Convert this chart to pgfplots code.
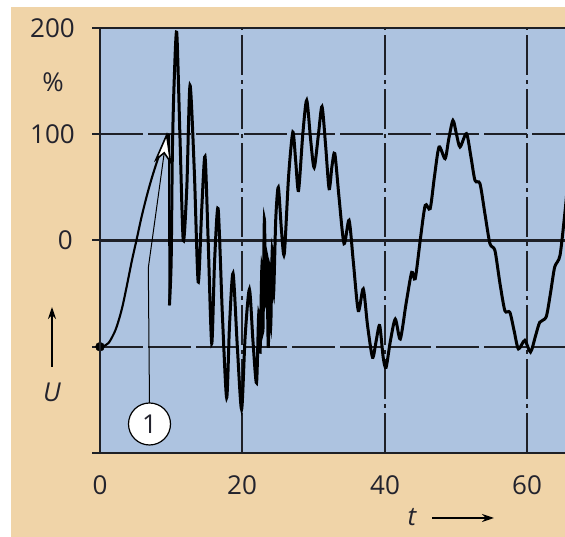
\documentclass[border=0pt]{standalone}
\usepackage{pgfplots}
\pgfplotsset{compat=1.18}
\usepackage{fontspec}
\setmainfont{Open Sans}
\usetikzlibrary{arrows.meta}
\definecolor{tanbg}{RGB}{240,212,168}
\definecolor{plotblue}{RGB}{173,195,224}
\definecolor{gridc}{RGB}{30,32,38}
\definecolor{txt}{RGB}{35,35,45}
\newcommand{\fs}{\fontsize{26}{30}\selectfont}
\begin{document}
\begin{tikzpicture}[x=1pt,y=1pt]
\useasboundingbox (0,0) rectangle (565,537);
\fill[white] (0,0) rectangle (565,537);
\fill[tanbg] (11,0) rectangle (565,530);
\begin{axis}[
  at={(100pt,84pt)}, anchor=south west,
  scale only axis, width=465pt, height=425pt,
  xmin=0, xmax=65.35, ymin=-200, ymax=200,
  axis background/.style={fill=plotblue},
  axis line style={draw=none},
  xtick=\empty,
  ytick={-200,-100,0,100,200}, yticklabels={,,,,},
  tick align=outside, ytick pos=left,
  major tick length=8pt,
  ytick style={draw=gridc, line width=2pt},
]
\draw[gridc, line width=2.1pt, dash pattern=on 43pt off 5pt] (axis cs:0,100) -- (axis cs:65.35,100);
\draw[gridc, line width=2.1pt, dash pattern=on 43pt off 5pt] (axis cs:0,-100) -- (axis cs:65.35,-100);
\draw[gridc, line width=2.1pt] (axis cs:0,0) -- (axis cs:65.35,0);
\foreach \xx in {20,40,60} {
  \edef\tmp{\noexpand\draw[gridc, line width=2.1pt, dash pattern=on 40pt off 5pt on 4pt off 5pt] (axis cs:\xx,-200) -- (axis cs:\xx,200);}\tmp
}
% initial smooth rise
\addplot[black, line width=2.1pt, smooth, tension=0.6] coordinates {
(0,-100) (0.4,-99.6) (0.8,-98.5) (1.2,-96.5) (1.7,-91) (2.3,-82) (3.05,-65) (3.7,-45)
(4.45,-20) (5.15,1) (5.8,21) (6.5,40) (7.2,57) (7.9,72) (8.5,84) (9.0,92) (9.4,98) (9.7,100)
};
% switching drop
\addplot[black, line width=2.1pt] coordinates {(9.7,100) (9.76,-61)};
% oscillating response
\addplot[black, line width=3pt, smooth, tension=0.45] coordinates {
(9.76,-61) (10.0,-20) (10.17,82) (10.4,145) (10.78,196) (11.24,97) (11.7,0)
(12.2,50) (12.65,146) (13.25,66) (13.8,-39) (14.3,30) (14.76,79) (15.2,0) (15.7,-97)
(16.1,-20) (16.6,30) (17.2,-70) (17.8,-148) (18.2,-80) (18.7,-31) (19.3,-100) (19.9,-159)
(20.4,-90) (21.0,-46) (21.5,-95) (22.0,-134) (22.3,-70) (22.5,-105) (22.75,-25) (22.9,-85)
(23.1,20) (23.3,-60) (23.45,-15) (23.65,-101) (23.85,-25) (24.0,-80) (24.2,-10) (24.4,-50)
(24.7,20) (25.06,50) (25.5,10) (25.9,-12.6) (26.5,60)
(27.1,102) (27.5,75) (27.9,47) (28.5,100) (29.05,132) (29.6,95) (30.1,68.6) (30.7,100)
(31.2,126) (31.7,90) (32.2,48.7) (32.6,70) (33.0,81.8) (33.6,40) (34.3,-3) (35.0,19)
(35.6,-20) (36.3,-66) (37.0,-45.6) (37.6,-80) (38.3,-110) (38.8,-95) (39.3,-80) (39.8,-110)
(40.2,-119.5) (40.8,-95) (41.5,-74) (42.2,-92.7) (43.0,-60) (43.8,-30) (44.3,-36) (45.0,0)
(45.7,33) (46.4,30) (47.0,60) (47.65,88) (48.5,77) (49.0,95) (49.6,113) (50.1,100)
(50.6,88) (51.5,100.6) (52.1,80) (52.7,56.6) (53.4,53.5) (54.1,25) (54.8,-3) (55.5,-9.4)
(56.2,-40) (56.9,-66) (57.6,-67.6) (58.2,-85) (58.8,-102) (59.7,-94) (60.5,-105) (61.2,-90)
(61.8,-77) (62.7,-72) (63.3,-50) (63.9,-25) (64.65,-14) (65.35,27) (65.6,45)
};
\addplot[only marks, mark=*, mark size=4.5pt, black] coordinates {(0,-100)};
\end{axis}
% axis frame
\draw[gridc, line width=2pt] (100,84) -- (100,509);
\draw[gridc, line width=2pt] (100,509) -- (565,509);
\draw[gridc, line width=2pt] (100,84) -- (565,84);
% y labels
\node[anchor=east, inner sep=0, text=txt, font=\fs] at (75,509) {200};
\node[inner sep=0, text=txt, font=\fs] at (53,455) {\%};
\node[anchor=east, inner sep=0, text=txt, font=\fs] at (75,403) {100};
\node[anchor=east, inner sep=0, text=txt, font=\fs] at (73,297) {0};
\draw[black, line width=1.8pt, -{Stealth[length=12pt,width=8pt]}] (52,170) -- (52,230);
\node[inner sep=0, text=txt, font=\fs\itshape] at (52,145) {U};
% x labels
\node[inner sep=0, text=txt, font=\fs] at (100,51.5) {0};
\node[inner sep=0, text=txt, font=\fs] at (242,51.5) {20};
\node[inner sep=0, text=txt, font=\fs] at (385,51.5) {40};
\node[inner sep=0, text=txt, font=\fs] at (527,51.5) {60};
\node[inner sep=0, text=txt, font=\fs\itshape] at (412,20) {t};
\draw[black, line width=1.8pt, -{Stealth[length=12pt,width=8pt]}] (432,19) -- (494,19);
% annotation 1
\draw[black, line width=1pt] (149.5,134) -- (148.3,269) -- (164.2,384);
\fill[white, draw=black, line width=1.6pt, line join=miter] (166.7,402) -- (170.5,375) -- (164.2,384.2) -- (156.0,377.5) -- cycle;
\node[circle, draw=black, fill=white, line width=1.2pt, minimum size=42pt, inner sep=0, text=txt, font=\fs] at (149.5,113) {1};
\end{tikzpicture}
\end{document}
